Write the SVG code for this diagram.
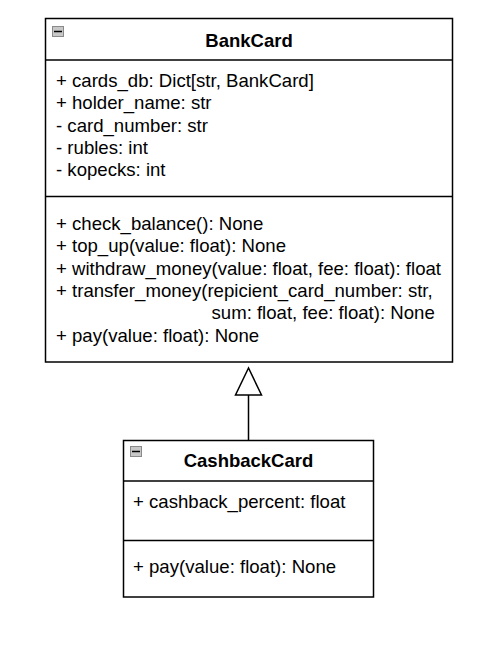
<svg xmlns="http://www.w3.org/2000/svg" width="492" height="660" viewBox="0 0 492 660">
<style>
.box{fill:#fff;stroke:#000;stroke-width:1.5}
.div{stroke:#000;stroke-width:1.5;fill:none}
.t{font-family:"Liberation Sans",Arial,sans-serif;font-size:18.6px;fill:#000}
.title{font-family:"Liberation Sans",Arial,sans-serif;font-size:18.5px;font-weight:bold;fill:#000;text-anchor:middle}
.ico{fill:#c8c8c8;stroke:#8a8a8a;stroke-width:1}
.icol{stroke:#000;stroke-width:1.5}
</style>
<rect width="492" height="660" fill="#fff"/>
<g id="connectors">
<line x1="248.5" y1="395" x2="248.5" y2="441" stroke="#000" stroke-width="1.5"/>
<polygon points="248.5,368 235.5,395 261.5,395" fill="#fff" stroke="#000" stroke-width="1.5"/>
</g>
<g id="BankCard">
<rect class="box" x="45.5" y="18.5" width="407" height="343.5"/>
<line class="div" x1="45.5" y1="60" x2="452.5" y2="60"/>
<line class="div" x1="45.5" y1="196.5" x2="452.5" y2="196.5"/>
<rect class="ico" x="52.5" y="26.5" width="11" height="10"/>
<line class="icol" x1="54" y1="31.5" x2="62" y2="31.5"/>
<text class="title" x="249" y="47">BankCard</text>
<text class="t" x="56" y="87">+ cards_db: Dict[str, BankCard]</text>
<text class="t" x="56" y="109">+ holder_name: str</text>
<text class="t" x="56" y="132">- card_number: str</text>
<text class="t" x="56" y="154">- rubles: int</text>
<text class="t" x="56" y="176">- kopecks: int</text>
<text class="t" x="56" y="230">+ check_balance(): None</text>
<text class="t" x="56" y="252">+ top_up(value: float): None</text>
<text class="t" x="56" y="275">+ withdraw_money(value: float, fee: float): float</text>
<text class="t" x="56" y="297">+ transfer_money(repicient_card_number: str,</text>
<text class="t" x="211.5" y="319">sum: float, fee: float): None</text>
<text class="t" x="56" y="342">+ pay(value: float): None</text>
</g>
<g id="CashbackCard">
<rect class="box" x="123.5" y="440.5" width="250" height="156.5"/>
<line class="div" x1="123.5" y1="481" x2="373.5" y2="481"/>
<line class="div" x1="123.5" y1="540.5" x2="373.5" y2="540.5"/>
<rect class="ico" x="130.5" y="446.5" width="11" height="10"/>
<line class="icol" x1="132" y1="451.5" x2="140" y2="451.5"/>
<text class="title" x="248.5" y="467">CashbackCard</text>
<text class="t" x="133" y="508">+ cashback_percent: float</text>
<text class="t" x="133" y="573">+ pay(value: float): None</text>
</g>
</svg>
